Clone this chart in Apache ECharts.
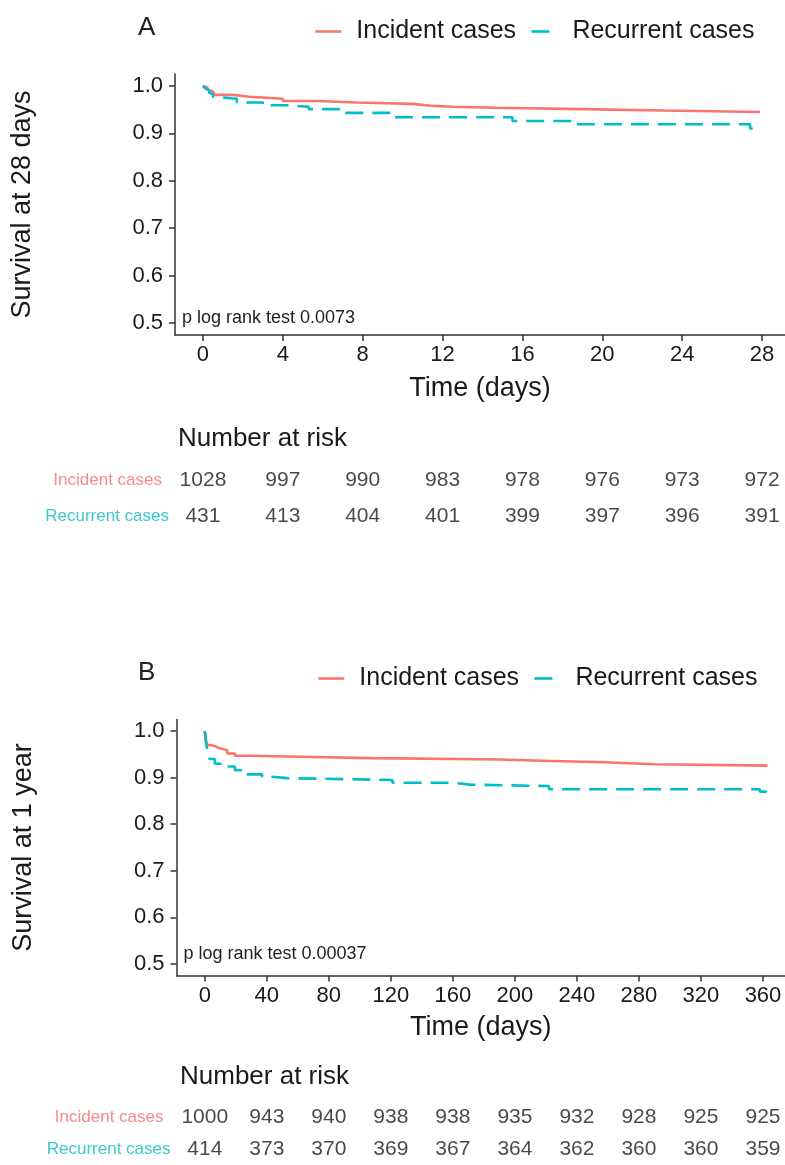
<!DOCTYPE html>
<html>
<head>
<meta charset="utf-8">
<script src="https://cdn.jsdelivr.net/npm/echarts@6/dist/echarts.min.js"></script>
<style>
html,body{margin:0;padding:0;background:#fff;}
#chart{width:785px;height:1165px;}
</style>
</head>
<body>
<div id="chart"></div>
<script>
// ---------- Data ----------
const groups = ['Incident cases', 'Recurrent cases'];

// Panel A: survival at 28 days (Kaplan-Meier step points)
const aIncidentTime = [0, 0.1, 0.2, 0.3, 0.4, 0.5, 0.6, 1.5, 2.3, 4.0, 5.7, 7.7, 10.5, 11.4, 12.5, 14.7, 19.0, 23.1, 27.9];
const aIncidentSurv = [1.0, 0.997, 0.994, 0.991, 0.988, 0.985, 0.981, 0.977, 0.973, 0.968, 0.965, 0.962, 0.958, 0.956, 0.954, 0.951, 0.948, 0.945, 0.945];
const aRecurrentTime = [0, 0.1, 0.2, 0.3, 0.4, 0.5, 0.6, 1.7, 3.0, 4.2, 5.3, 6.8, 9.6, 15.5, 18.6, 27.4, 27.8];
const aRecurrentSurv = [1.0, 0.995, 0.991, 0.986, 0.982, 0.977, 0.973, 0.965, 0.959, 0.956, 0.951, 0.943, 0.934, 0.926, 0.919, 0.910, 0.907];

// Panel B: survival at 1 year
const bIncidentTime = [0, 1, 2, 4, 7, 9.7, 14.5, 19.4, 29, 61, 108, 190, 224, 258, 290, 363];
const bIncidentSurv = [1.0, 0.975, 0.970, 0.967, 0.963, 0.959, 0.952, 0.947, 0.945, 0.942, 0.939, 0.936, 0.933, 0.929, 0.926, 0.926];
const bRecurrentTime = [0, 1, 2, 3, 6.5, 14.5, 19.4, 25.8, 37, 43.5, 53, 121, 161, 171, 222, 358, 362];
const bRecurrentSurv = [1.0, 0.970, 0.955, 0.940, 0.930, 0.924, 0.916, 0.907, 0.902, 0.899, 0.895, 0.889, 0.885, 0.882, 0.875, 0.870, 0.866];

// Tick labels
const yTicks = [0.5, 0.6, 0.7, 0.8, 0.9, 1.0];
const aXTicks = [0, 4, 8, 12, 16, 20, 24, 28];
const bXTicks = [0, 40, 80, 120, 160, 200, 240, 280, 320, 360];

// Number at risk tables
const aRiskIncident = [1028, 997, 990, 983, 978, 976, 973, 972];
const aRiskRecurrent = [431, 413, 404, 401, 399, 397, 396, 391];
const bRiskIncident = [1000, 943, 940, 938, 938, 935, 932, 928, 925, 925];
const bRiskRecurrent = [414, 373, 370, 369, 367, 364, 362, 360, 360, 359];

const pTextA = 'p log rank test 0.0073';
const pTextB = 'p log rank test 0.00037';

// ---------- Styles ----------
const FONT = '"Liberation Sans", Arial, sans-serif';
const RED = '#F8766D';
const CYAN = '#00BFC4';
const TXT = '#1a1a1a';
const AXIS = '#333333';
const DASH = [18, 9];

function zip(t, s) { return t.map((v, i) => [v, s[i]]); }
function riskData(times, vals, name) { return times.map((t, i) => [t, name, vals[i]]); }

function kmAxes(gi, min, max, ticks, yName) {
  const x = {
    gridIndex: gi, type: 'value', min: min, max: max,
    axisLine: { show: true, onZero: false, lineStyle: { color: AXIS, width: 1.5 } },
    axisTick: { show: true, length: 6, customValues: ticks, lineStyle: { color: AXIS, width: 1.5 } },
    axisLabel: { customValues: ticks, fontSize: 22, color: TXT, margin: 9, fontFamily: FONT },
    splitLine: { show: false },
    name: 'Time (days)', nameLocation: 'middle', nameGap: 40,
    nameTextStyle: { fontSize: 27, color: TXT, fontFamily: FONT }
  };
  const y = {
    gridIndex: gi, type: 'value', min: 0.475, max: 1.025,
    axisLine: { show: true, onZero: false, lineStyle: { color: AXIS, width: 1.5 } },
    axisTick: { show: true, length: 6, customValues: yTicks, lineStyle: { color: AXIS, width: 1.5 } },
    axisLabel: { customValues: yTicks, fontSize: 22, color: TXT, margin: 12, fontFamily: FONT,
      formatter: v => Number(v).toFixed(1) },
    splitLine: { show: false },
    name: yName, nameLocation: 'middle', nameGap: 139,
    nameTextStyle: { fontSize: 27, color: TXT, fontFamily: FONT }
  };
  return [x, y];
}

function riskAxes(gi, min, max) {
  const x = { gridIndex: gi, type: 'value', min: min, max: max, show: false };
  const y = {
    gridIndex: gi, type: 'category', data: ['Recurrent cases', 'Incident cases'],
    axisLine: { show: false }, axisTick: { show: false }, splitLine: { show: false },
    axisLabel: {
      margin: 6,
      formatter: v => v === 'Incident cases' ? '{i|' + v + '}' : '{r|' + v + '}',
      rich: {
        i: { color: '#F98A8A', fontSize: 17, fontFamily: FONT, padding: [0, 7, 0, 0] },
        r: { color: '#3CC9CC', fontSize: 17, fontFamily: FONT }
      }
    }
  };
  return [x, y];
}

const [xa, ya] = kmAxes(0, -1.4, 29.15, aXTicks, 'Survival at 28 days');
const [xra, yra] = riskAxes(1, -1.4, 29.15);
const [xb, yb] = kmAxes(2, -18.25, 374.2, bXTicks, 'Survival at 1 year');
xb.nameGap = 39;
const [xrb, yrb] = riskAxes(3, -18.25, 374.2);

function kmSeries(name, data, xi, color, dashed) {
  return {
    type: 'line', name: name, xAxisIndex: xi, yAxisIndex: xi, data: data,
    step: 'end', symbol: 'none', silent: true,
    lineStyle: { color: color, width: 2.6, type: dashed ? DASH : 'solid' },
    itemStyle: { color: color }
  };
}
function riskSeries(data, xi) {
  return {
    type: 'scatter', xAxisIndex: xi, yAxisIndex: xi, data: data, symbolSize: 0, silent: true,
    label: { show: true, position: 'inside', formatter: p => String(p.value[2]),
      fontSize: 21, color: TXT, fontFamily: FONT }
  };
}

const legendBase = {
  data: groups, itemWidth: 26, itemHeight: 14, itemGap: 14, selectedMode: false,
  itemStyle: { color: 'rgba(0,0,0,0)', borderColor: 'rgba(0,0,0,0)', borderWidth: 0, opacity: 0 },
  lineStyle: { width: 2.6 },
  textStyle: { fontSize: 25, color: TXT, fontFamily: FONT, padding: [0, 0, 0, 10] }
};

const option = {
  backgroundColor: '#ffffff',
  animation: false,
  title: [
    { text: 'A', left: 133, top: 10, textStyle: { fontSize: 26, fontWeight: 'normal', color: '#222', fontFamily: FONT } },
    { text: 'Number at risk', left: 173, top: 421, textStyle: { fontSize: 26, fontWeight: 'normal', color: TXT, fontFamily: FONT } },
    { text: 'B', left: 133, top: 655, textStyle: { fontSize: 26, fontWeight: 'normal', color: '#222', fontFamily: FONT } },
    { text: 'Number at risk', left: 175, top: 1059, textStyle: { fontSize: 26, fontWeight: 'normal', color: TXT, fontFamily: FONT } }
  ],
  legend: [
    Object.assign({}, legendBase, { left: 309, top: 14 }),
    Object.assign({}, legendBase, { left: 312, top: 661 })
  ],
  grid: [
    { left: 175, right: 0, top: 74, height: 261 },
    { left: 175, right: 0, top: 462, height: 72 },
    { left: 176.5, right: 0, top: 719.5, height: 256 },
    { left: 176.5, right: 0, top: 1101, height: 68 }
  ],
  xAxis: [xa, xra, xb, xrb],
  yAxis: [ya, yra, yb, yrb],
  series: [
    kmSeries(groups[0], zip(aIncidentTime, aIncidentSurv), 0, RED, false),
    kmSeries(groups[1], zip(aRecurrentTime, aRecurrentSurv), 0, CYAN, true),
    riskSeries(riskData(aXTicks, aRiskIncident, 'Incident cases'), 1),
    riskSeries(riskData(aXTicks, aRiskRecurrent, 'Recurrent cases'), 1),
    kmSeries(groups[0], zip(bIncidentTime, bIncidentSurv), 2, RED, false),
    kmSeries(groups[1], zip(bRecurrentTime, bRecurrentSurv), 2, CYAN, true),
    riskSeries(riskData(bXTicks, bRiskIncident, 'Incident cases'), 3),
    riskSeries(riskData(bXTicks, bRiskRecurrent, 'Recurrent cases'), 3)
  ]
};

const chart = echarts.init(document.getElementById('chart'), null, { renderer: 'canvas' });
chart.setOption(option);

// p-value annotations anchored through the axes
const pa = chart.convertToPixel({ xAxisIndex: 0, yAxisIndex: 0 }, [-1.4, 0.511]);
const pb = chart.convertToPixel({ xAxisIndex: 2, yAxisIndex: 2 }, [-18.25, 0.521]);
chart.setOption({
  graphic: [
    { type: 'text', x: pa[0] + 7, y: pa[1], style: { text: pTextA, fontSize: 18, fill: '#222', fontFamily: FONT, verticalAlign: 'middle' } },
    { type: 'text', x: pb[0] + 7, y: pb[1], style: { text: pTextB, fontSize: 18, fill: '#222', fontFamily: FONT, verticalAlign: 'middle' } }
  ]
});
</script>
</body>
</html>
